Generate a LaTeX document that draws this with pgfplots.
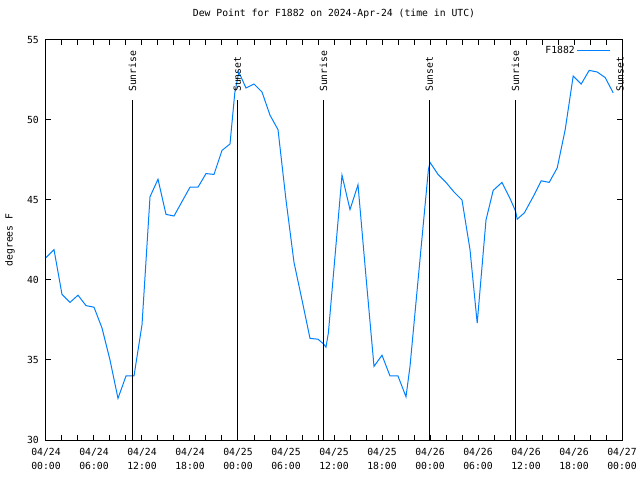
\documentclass[border=0pt]{standalone}
\usepackage{fontspec}
\usepackage{pgfplots}
\pgfplotsset{compat=1.18}
\newfontfamily\mono{DejaVu Sans Mono}
\definecolor{dewblue}{RGB}{0,128,255}
\newcommand{\gf}{\mono\fontsize{9.8}{14}\selectfont}

\begin{document}
\begin{tikzpicture}
\useasboundingbox (-46bp,-40bp) rectangle (594bp,440bp);
\begin{axis}[
    at={(0,0)}, anchor=south west,
    scale only axis, width=576bp, height=400bp,
    xmin=0, xmax=72, ymin=30, ymax=55,
    clip=false,
    axis line style={line width=1bp},
    tick style={black, line width=1bp},
    major tick length=5bp, minor tick length=5bp,
    xtick={0,6,...,72},
    minor xtick={2,4,8,10,14,16,20,22,26,28,32,34,38,40,44,46,50,52,56,58,62,64,68,70},
    xticklabels={04/24\\00:00,04/24\\06:00,04/24\\12:00,04/24\\18:00,
                 04/25\\00:00,04/25\\06:00,04/25\\12:00,04/25\\18:00,
                 04/26\\00:00,04/26\\06:00,04/26\\12:00,04/26\\18:00,04/27\\00:00},
    ytick={30,35,...,55},
    /pgf/number format/assume math mode=true,
    xticklabel style={font=\gf, align=center, anchor=center, yshift=-19bp, inner sep=0pt},
    yticklabel style={font=\gf, anchor=east, inner sep=0pt, xshift=-7bp},
    ylabel={degrees F},
    ylabel style={font=\gf, at={(axis description cs:-0.0625,0.5)}, anchor=center},
    title={Dew Point for F1882 on 2024-Apr-24 (time in UTC)},
    title style={font=\gf, at={(axis description cs:0.5,1)}, anchor=center, yshift=20bp},
    legend plot pos=right,
    legend style={draw=none, fill=none, font=\gf, at={(axis description cs:1,1)},
                  anchor=north east, xshift=-8bp, yshift=-2bp},
    legend image code/.code={\path (0bp,0bp) -- (5bp,0bp);
                             \draw[#1] (5bp,0bp) -- (33bp,0bp);},
]
\addplot[color=dewblue, line width=1bp] coordinates {
(0.0,41.4)(1.0,41.9)(2.0,39.1)(3.0,38.6)(4.0,39.05)(5.0,38.4)(6.0,38.3)
(7.0,37.0)(8.0,35.0)(9.0,32.6)(10.0,34.0)(11.0,34.0)(12.0,37.2)(13.0,45.2)
(14.0,46.3)(15.0,44.1)(16.0,44.0)(17.0,44.9)(18.0,45.8)(19.0,45.8)(20.0,46.65)
(21.0,46.6)(22.0,48.1)(23.0,48.5)(23.6,51.7)(24.1,53.0)(25.0,52.0)(26.0,52.25)
(27.0,51.75)(28.0,50.3)(29.0,49.4)(30.0,45.0)(31.0,41.1)(32.0,38.75)(33.0,36.35)
(34.0,36.3)(34.7,36.0)(35.0,35.8)(35.3,36.7)(37.0,46.55)(38.0,44.4)(39.0,45.95)
(40.0,40.2)(41.0,34.6)(42.0,35.3)(43.0,34.0)(44.0,34.0)(45.0,32.7)(45.5,34.6)
(47.8,46.9)(48.0,47.35)(49.0,46.6)(50.0,46.1)(51.0,45.5)(52.0,45.0)(53.0,41.9)
(53.9,37.3)(55.0,43.75)(55.9,45.6)(57.0,46.1)(58.0,45.1)(58.7,44.3)(58.9,43.8)
(59.8,44.2)(61.0,45.3)(61.9,46.2)(62.9,46.1)(63.9,47.0)(64.9,49.4)(65.9,52.75)
(66.9,52.25)(67.9,53.1)(68.9,53.0)(69.9,52.65)(70.9,51.7)
};
\addlegendentry{F1882}

\draw[black, line width=1bp] (axis cs:10.8,30) -- (axis cs:10.8,51.25);
\draw[black, line width=1bp] (axis cs:23.9,30) -- (axis cs:23.9,51.25);
\draw[black, line width=1bp] (axis cs:34.7,30) -- (axis cs:34.7,51.25);
\draw[black, line width=1bp] (axis cs:47.9,30) -- (axis cs:47.9,51.25);
\draw[black, line width=1bp] (axis cs:58.7,30) -- (axis cs:58.7,51.25);
\node[font=\gf, rotate=90, anchor=west, inner sep=0pt] at (axis cs:10.8,51.75) {Sunrise};
\node[font=\gf, rotate=90, anchor=west, inner sep=0pt] at (axis cs:23.9,51.75) {Sunset};
\node[font=\gf, rotate=90, anchor=west, inner sep=0pt] at (axis cs:34.7,51.75) {Sunrise};
\node[font=\gf, rotate=90, anchor=west, inner sep=0pt] at (axis cs:47.9,51.75) {Sunset};
\node[font=\gf, rotate=90, anchor=west, inner sep=0pt] at (axis cs:58.7,51.75) {Sunrise};
\node[font=\gf, rotate=90, anchor=west, inner sep=0pt] at (axis cs:71.75,51.75) {Sunset};
\end{axis}
\end{tikzpicture}
\end{document}
